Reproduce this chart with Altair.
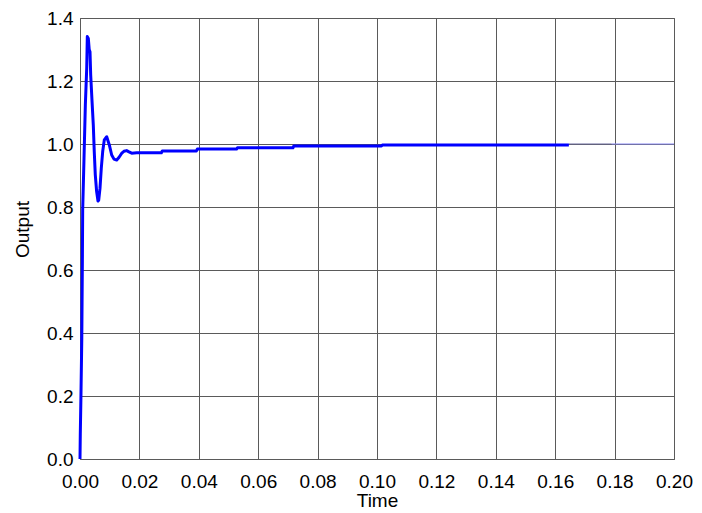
import altair as alt
import pandas as pd

# Step response
time = [0.0, 0.0001, 0.0003, 0.0006, 0.0008, 0.0009, 0.00135, 0.0018, 0.00226,
        0.00246, 0.0028, 0.0031, 0.00337, 0.0036, 0.0040, 0.00448, 0.0048,
        0.00515, 0.0056, 0.00606, 0.0063, 0.00673, 0.00717, 0.00764, 0.00818,
        0.00899, 0.00987, 0.01067, 0.01145, 0.01236, 0.0131, 0.0140, 0.0148,
        0.0157, 0.0165, 0.0174, 0.0191, 0.0274, 0.0277, 0.0392, 0.0395,
        0.0527, 0.0530, 0.0717, 0.0720, 0.1015, 0.1018, 0.1646]
output = [0.0, 0.08, 0.19, 0.38, 0.63, 0.79, 0.955, 1.124, 1.24,
          1.341, 1.335, 1.30, 1.293, 1.219, 1.145, 1.06, 0.976,
          0.902, 0.849, 0.819, 0.822, 0.859, 0.923, 0.976, 1.013,
          1.023, 0.997, 0.965, 0.952, 0.949, 0.957, 0.970, 0.977,
          0.979, 0.975, 0.971, 0.972, 0.972, 0.978, 0.978, 0.984,
          0.984, 0.988, 0.988, 0.994, 0.994, 0.997, 0.997]

# thin tail at the final value
tail_a_time = [0.1646, 0.179]
tail_a_value = [1.0, 1.0]
tail_b_time = [0.179, 0.2]
tail_b_value = [1.0, 1.0]

x_ticks = [0.0, 0.02, 0.04, 0.06, 0.08, 0.10, 0.12, 0.14, 0.16, 0.18, 0.20]
y_ticks = [0.0, 0.2, 0.4, 0.6, 0.8, 1.0, 1.2, 1.4]

df = pd.DataFrame({"t": time, "v": output, "i": list(range(len(time)))})
ta = pd.DataFrame({"t": tail_a_time, "v": tail_a_value})
tb = pd.DataFrame({"t": tail_b_time, "v": tail_b_value})

FONT = "Liberation Sans"
GRID = "#5a5a5a"

xscale = alt.Scale(domain=[0, 0.2], nice=False, zero=False)
yscale = alt.Scale(domain=[0, 1.4], nice=False)

xaxis = alt.Axis(values=x_ticks, format=".2f", title="Time", grid=True,
                 labelFlush=False, labelOverlap=False, labelPadding=13,
                 titleY=47, titleBaseline="alphabetic", titleAnchor="middle")
yaxis = alt.Axis(values=y_ticks, format=".1f", title="Output", grid=True,
                 labelPadding=7, labelOverlap=False, labelFlush=False,
                 titleAngle=270, titleX=-52, titleY=211,
                 titleBaseline="alphabetic", titleAlign="center")

tail_a = alt.Chart(ta).mark_line(color="#6a6a9e", strokeWidth=1).encode(
    x=alt.X("t:Q", scale=xscale, axis=xaxis),
    y=alt.Y("v:Q", scale=yscale, axis=yaxis),
)
tail_b = alt.Chart(tb).mark_line(color="#8a8af5", strokeWidth=1.2).encode(
    x=alt.X("t:Q", scale=xscale),
    y=alt.Y("v:Q", scale=yscale),
)
main = alt.Chart(df).mark_line(color="#0000ff", strokeWidth=3,
                               strokeJoin="round").encode(
    x=alt.X("t:Q", scale=xscale),
    y=alt.Y("v:Q", scale=yscale),
    order="i:Q",
)

chart = alt.layer(tail_a, tail_b, main).properties(
    width=594, height=441,
    autosize=alt.AutoSizeParams(type="none"),
    padding={"left": 72, "top": 10, "right": 20, "bottom": 50},
    background="white",
).configure_view(
    stroke=GRID, strokeWidth=1
).configure_axis(
    labelFont=FONT, titleFont=FONT, labelFontSize=19, titleFontSize=19,
    labelColor="black", titleColor="black", titleFontWeight="normal",
    ticks=False, domain=False, gridColor=GRID, gridWidth=1, gridOpacity=1,
)

chart.save("out.html", embed_options={"renderer": "svg", "actions": False})
